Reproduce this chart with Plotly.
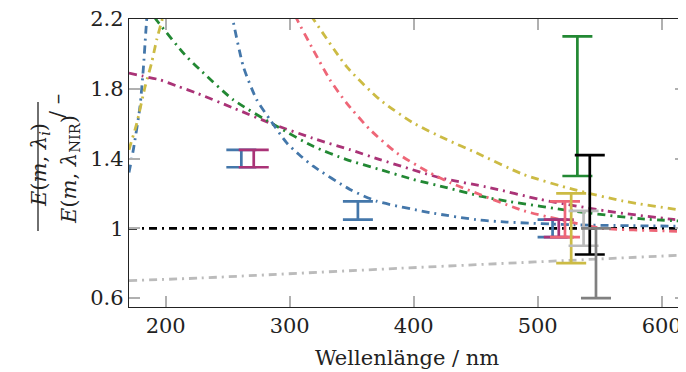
import plotly.graph_objects as go

# ---------------- data ----------------
wl_blue_rise = [170.4, 173.9, 179.3, 181.9, 183.9, 185.2]
ratio_blue_rise = [1.32, 1.45, 1.70, 1.91, 2.12, 2.25]

wl_blue_fall = [252.5, 254.0, 262.6, 273.4, 284.1, 297.6, 307.5, 319.0, 348.6,
                370.1, 413.1, 453.5, 474.9, 528.7, 620.0]
ratio_blue_fall = [2.25, 2.20, 1.927, 1.737, 1.623, 1.49, 1.423, 1.356, 1.223,
                   1.156, 1.09, 1.047, 1.036, 1.02, 1.012]

wl_yellow_rise = [170.4, 171.2, 176.6, 183.3, 188.7, 192.7, 197.3, 198.5]
ratio_yellow_rise = [1.45, 1.47, 1.60, 1.81, 1.95, 2.08, 2.20, 2.23]

wl_yellow_fall = [317.0, 319.0, 345.9, 372.8, 399.7, 426.6, 450.5, 488.4, 528.7, 569.0, 614.8, 620.0]
ratio_yellow_fall = [2.22, 2.20, 1.927, 1.737, 1.604, 1.509, 1.433, 1.309, 1.223, 1.156, 1.105, 1.10]

wl_green = [191.0, 193.0, 215.6, 227.7, 254.5, 289.5, 319.0, 345.9, 372.8, 399.7,
            426.6, 453.5, 474.9, 528.7, 582.5, 620.0]
ratio_green = [2.21, 2.19, 1.994, 1.909, 1.737, 1.585, 1.47, 1.394, 1.337, 1.28,
               1.233, 1.185, 1.156, 1.099, 1.055, 1.04]

wl_magenta = [170.4, 180.6, 195.4, 210.2, 225.0, 254.5, 286.8, 321.8, 348.6, 372.8,
              421.2, 461.5, 501.8, 555.5, 609.4, 620.0]
ratio_magenta = [1.89, 1.874, 1.851, 1.813, 1.775, 1.69, 1.596, 1.509, 1.451, 1.394,
                 1.29, 1.233, 1.166, 1.099, 1.051, 1.045]

wl_pink = [304.5, 305.7, 319.0, 332.5, 345.9, 364.7, 386.2, 413.1, 430.0, 489.0,
           518.0, 552.0, 603.0, 620.0]
ratio_pink = [2.22, 2.20, 2.023, 1.851, 1.718, 1.566, 1.433, 1.318, 1.26, 1.10,
              1.05, 1.00, 0.985, 0.98]

wl_grey = [170.4, 227.7, 388.9, 614.8, 620.0]
ratio_grey = [0.70, 0.715, 0.771, 0.846, 0.848]

wl_ref = [170.4, 620.0]
ratio_ref = [1.0, 1.0]

# measured ranges (error bars)
eb_wl = [261, 271, 355, 512, 517, 522, 527, 532, 537, 542, 547]
eb_lo = [1.35, 1.35, 1.05, 0.95, 0.95, 0.95, 0.80, 1.30, 0.90, 0.85, 0.60]
eb_hi = [1.45, 1.45, 1.155, 1.05, 1.05, 1.155, 1.20, 2.10, 1.10, 1.42, 1.00]
eb_series = ["blue", "magenta", "blue", "blue", "magenta", "pink", "yellow",
             "green", "lightgrey", "black", "darkgrey"]

x_ticks = [200, 300, 400, 500, 600]
y_ticks = [0.6, 1.0, 1.4, 1.8, 2.2]
y_ticktext = ["0.6", "1", "1.4", "1.8", "2.2"]

# ---------------- styles ----------------
COL = {
    "blue": "#4477AA", "magenta": "#AA3377", "pink": "#EE6677", "yellow": "#CCBB44",
    "green": "#228833", "lightgrey": "#BBBBBB", "black": "#000000", "darkgrey": "#808080",
}
DASH = "8px,5px,2px,5px"
FONT = "DejaVu Serif"
FS = 21
TXT = "#222222"

fig = go.Figure()

def curve(x, y, color, width=2.8, dash=DASH):
    fig.add_trace(go.Scatter(x=x, y=y, mode="lines",
                             line=dict(color=color, width=width, dash=dash, shape="spline", smoothing=0.6),
                             hoverinfo="skip", showlegend=False))

curve(wl_grey, ratio_grey, COL["lightgrey"])
curve(wl_ref, ratio_ref, COL["black"], width=2.8)
curve(wl_blue_rise, ratio_blue_rise, COL["blue"])
curve(wl_yellow_rise, ratio_yellow_rise, COL["yellow"])
curve(wl_magenta, ratio_magenta, COL["magenta"])
curve(wl_green, ratio_green, COL["green"])
curve(wl_blue_fall, ratio_blue_fall, COL["blue"])
curve(wl_pink, ratio_pink, COL["pink"])
curve(wl_yellow_fall, ratio_yellow_fall, COL["yellow"])

for w, lo, hi, s in zip(eb_wl, eb_lo, eb_hi, eb_series):
    mid = (lo + hi) / 2
    half = (hi - lo) / 2
    fig.add_trace(go.Scatter(
        x=[w], y=[mid], mode="markers",
        marker=dict(size=1, color="rgba(0,0,0,0)"),
        error_y=dict(type="data", array=[half], symmetric=True,
                     color=COL[s], thickness=2.7, width=15),
        hoverinfo="skip", showlegend=False))

axis_common = dict(
    showline=True, linecolor=TXT, linewidth=1.3, mirror="ticks",
    ticks="inside", ticklen=11, tickwidth=1.5, tickcolor="#b0b0b0",
    showgrid=False, zeroline=False, automargin=False, ticklabeloverflow="allow",
    tickfont=dict(family=FONT, size=FS, color=TXT),
)

# the page body adds an 8px offset; lay out in figure coordinates accordingly
OFF = 8
W, H = 686, 372
L, T, R, B = 129 - OFF, 19 - OFF, OFF, 372 - (307 - OFF)
fig.update_layout(
    width=W, height=H,
    margin=dict(l=L, r=R, t=T, b=B, autoexpand=False),
    paper_bgcolor="white", plot_bgcolor="white",
    showlegend=False,
    xaxis=dict(range=[170.4, 619.6], tickvals=x_ticks, **axis_common),
    yaxis=dict(range=[0.549, 2.2], tickvals=y_ticks, ticktext=y_ticktext, **axis_common),
)

pw, ph = W - L - R, H - T - B
def px2paper(sx, sy):
    fx, fy = sx - OFF, sy - OFF
    return (fx - L) / pw, (H - B - fy) / ph

t_font = dict(family=FONT, size=FS, color=TXT)

# x-axis title
xx, xy = px2paper(407, 344)
fig.add_annotation(x=xx, y=xy, xref="paper", yref="paper", showarrow=False,
                   yanchor="top", text="Wellenlänge / nm", font=t_font)

# y-axis title as a fraction
nx, ny = px2paper(25, 165)
fig.add_annotation(x=nx, y=ny, xref="paper", yref="paper", showarrow=False,
                   text="<i>E</i>(<i>m</i>, <i>λ<sub>i</sub></i>)", textangle=-90, font=t_font)
dx, dy = px2paper(55, 170)
fig.add_annotation(x=dx, y=dy, xref="paper", yref="paper", showarrow=False,
                   text="<i>E</i>(<i>m</i>, <i>λ</i><sub>NIR</sub>)", textangle=-90, font=t_font)
sx, sy = px2paper(43, 92)
fig.add_annotation(x=sx, y=sy, xref="paper", yref="paper", showarrow=False,
                   text="/ –", textangle=-90, font=t_font)
bx0, by0 = px2paper(38, 231)
bx1, by1 = px2paper(38, 102)
fig.add_shape(type="line", xref="paper", yref="paper", x0=bx0, y0=by0, x1=bx1, y1=by1,
              line=dict(color=TXT, width=1.3))

fig.write_html("out.html")
